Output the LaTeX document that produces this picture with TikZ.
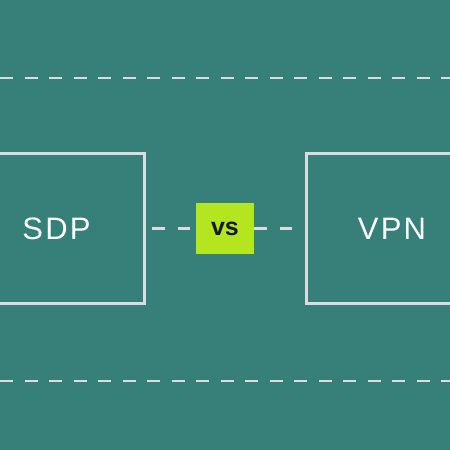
\documentclass[tikz,border=0pt]{standalone}
\usepackage{fontspec}
\setmainfont{Liberation Sans}
\newfontfamily\lblfont[LetterSpace=7]{Liberation Sans}
\newfontfamily\vsfont{Liberation Sans}
\definecolor{bg}{HTML}{37807A}
\definecolor{edge}{HTML}{D9DDE2}
\definecolor{lime}{HTML}{B3E61F}
\definecolor{ink}{HTML}{17182B}
\begin{document}
\begin{tikzpicture}[x=1pt,y=-1pt,
  dashline/.style={draw=edge,line width=2.2pt,dash pattern=on 13pt off 11.5pt},
  boxline/.style={draw=edge,line width=3pt},
  lbl/.style={text=white,font=\lblfont\fontsize{31}{31}\selectfont,inner sep=0pt},
  vsbox/.style={fill=lime,minimum width=58pt,minimum height=51pt,inner sep=0pt,
    font=\vsfont\bfseries\fontsize{25}{25}\selectfont,text=ink}]
\fill[bg] (0,0) rectangle (450,450);
\useasboundingbox (0,0) rectangle (450,450);
\coordinate (t0) at (0,78);
\coordinate (t1) at (450,78);
\coordinate (b0) at (0,381);
\coordinate (b1) at (450,381);
\draw[dashline] (t0) -- (t1);
\draw[dashline] (b0) -- (b1);
\draw[boxline] (-10,153) rectangle (144,303);
\draw[boxline] (306,153) rectangle (460,303);
\coordinate (l) at (144,228.5);
\coordinate (r) at (306,228.5);
\draw[dashline,dash pattern=on 12.5pt off 13pt,dash phase=17.5pt] (l) -- (r);
\node[vsbox] (vs) at (225,228.5) {vs};
\node[lbl] (sdp) at (56.5,229) {SDP};
\node[lbl] (vpn) at (392,229) {VPN};
\end{tikzpicture}
\end{document}
